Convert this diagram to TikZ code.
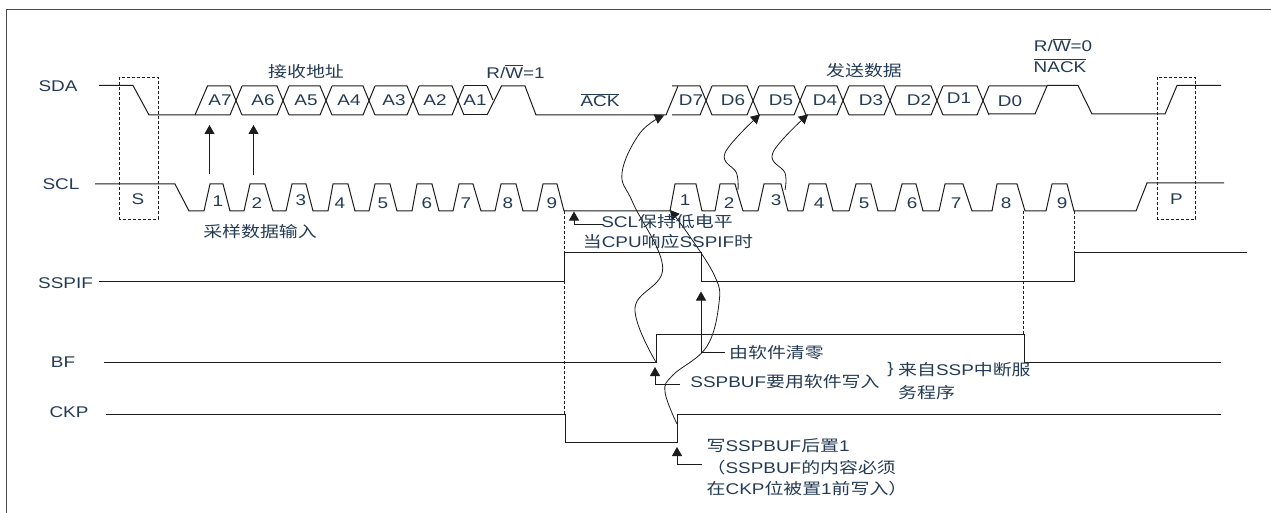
\documentclass[tikz,border=0pt]{standalone}
\usepackage{amsmath}
\usepackage{fontspec}
\usepackage{xcolor}
\usetikzlibrary{arrows.meta,positioning}
\setmainfont[FakeStretch=1.22]{Liberation Sans}
\newfontfamily\cjk[FakeStretch=1.22]{Noto Sans CJK SC}
\newcommand{\zh}[1]{{\cjk #1}}
\definecolor{TMText}{HTML}{243B55}
\definecolor{TMWave}{HTML}{1C1C1C}
\begin{document}
\begin{tikzpicture}[
  x=1pt,y=-1pt,
  sig/.style={text=TMText,font=\fontsize{15.5}{21.5}\selectfont,inner sep=0pt,align=left},
  wave/.style={draw=TMWave,line width=1pt,line join=miter},
  guide/.style={draw=TMWave,line width=0.6pt,densely dashed},
  arr/.style={-{Triangle[length=9pt,width=10pt]},draw=TMWave,line width=0.8pt}
]
\useasboundingbox (0,0) rectangle (1271,513);
\draw[line width=1.1pt,draw=black!70] (6.5,513) -- (6.5,9.5) -- (1271,9.5);

\node[sig] (sda) at (58,86) {SDA};
\node[sig] (scl) at (61,184) {SCL};
\node[sig] (sspif) at (65.5,283) {SSPIF};
\node[sig] (bf) at (63,362) {BF};
\node[sig] (ckp) at (69,412) {CKP};

\draw[wave] (99,85.5) -- (133,85.5) -- (149,115) -- (195,115) -- (207.5,86) -- (230,86) -- (242,115);
\draw[wave] (195,115) -- (230,115) -- (242,86);
\draw[wave] (487,86) -- (493,100);
\draw[wave] (487,115) -- (501.5,86) -- (525,86) -- (536,115) -- (666,115) -- (678,86);
\draw[wave] (1047,85.5) -- (1078,85.5) -- (1092,114) -- (1165,114) -- (1177,85.5) -- (1221,85.5);
\foreach \xa/\xb in {236/283,283/326,326/369,369/413,413/458,666/706,706/753,753/800,800/843,843/890,890/937,937/983}{
  \draw[wave] (\xa+6,86) -- (\xb-6,86) -- (\xb+6,115);
  \draw[wave] (\xa+6,115) -- (\xb-6,115) -- (\xb+6,86);
}
\draw[wave] (464,86) -- (487,86);
\draw[wave] (464,115) -- (487,115);
\draw[wave] (989,86) -- (1047,86) -- (1035,114) -- (989,114);
\foreach \lx/\ly/\txt in {220/100/A7,263/100/A6,306/100/A5,349/100/A4,394/100/A3,435/100/A2,475/100/A1,691/100/D7,733/100/D6,781/100/D5,825/100/D4,871/100/D3,919/100/D2,959/98/D1,1010/101/D0}{
  \node[sig] (bit\txt) at (\lx,\ly) {\txt};
}

\node[sig] (rxaddr) at (306,71.5) {\zh{接收地址}};
\node[sig] (rwone) at (515.5,71.5) {R/\(\overline{\mbox{W}}\)=1};
\node[sig] (ack) at (600,100) {\(\overline{\mbox{ACK}}\)};
\node[sig] (txdata) at (864,71) {\zh{发送数据}};
\node[sig] (rwzero) at (1063,45) {R/\(\overline{\mbox{W}}\)=0};
\node[sig] (nack) at (1060,65.5) {\(\overline{\mbox{NACK}}\)};

\draw[wave] (95,184) -- (175,184) -- (189,211)
  \foreach \a/\b/\c/\d in {204/210/223/230,244/250/265/273,286/292/306/313,328/333/348/355,369/375/390/397,412/417/432/439,453/459/473/481,495/501/516/523,537/543/557/564,670/675/696/702,715/720/735/743,758/764/781/788,803/809/826/833,849/856/871/878,895/902/916/923,939/945/963/972,992/997/1017/1025,1046/1052/1067/1074}{
    -- (\a,211) -- (\b,184) -- (\c,184) -- (\d,211)
  } -- (1136,211) -- (1147,183) -- (1224,183);
\foreach \x/\y/\txt in {218/201/1,257/203/2,301/200/3,340/203/4,383/203/5,427/203/6,466/203/7,508/203/8,552/203/9,685/200/1,729/203/2,776/200/3,819/203/4,864/203/5,912/203/6,956/203/7,1006/203/8,1062/203/9}{
  \node[sig] (pulse\x) at (\x,\y) {\txt};
}
\node[sig] (sample) at (260,231.5) {\zh{采样数据输入}};

\draw[guide] (119.5,77.5) rectangle (158,219);
\draw[guide] (1157,77.5) rectangle (1195.5,219);
\node[sig] (start) at (138,199) {S};
\node[sig] (stop) at (1176.5,199) {P};

\draw[wave] (99,281.5) -- (564,281.5) -- (564,252.7) -- (701,252.7) -- (701,281.5) -- (1074,281.5) -- (1074,252.7) -- (1247,252.7);
\draw[wave] (104,362) -- (656,362) -- (656,334) -- (1024,334) -- (1024,362) -- (1221,362);
\draw[wave] (106,414) -- (565,414) -- (565,442.7) -- (677,442.7) -- (677,414) -- (1221,414);

\draw[guide] (564,211) -- (564,414);
\draw[guide] (1023,211) -- (1023,334);
\draw[guide] (1074,211) -- (1074,253);

\coordinate (clkone) at (209.5,174);
\coordinate (clktwo) at (253.5,175);
\coordinate (sampleA) at (209.5,125);
\coordinate (sampleB) at (253.5,125);
\draw[arr] (clkone) -- (sampleA);
\draw[arr] (clktwo) -- (sampleB);

\coordinate (bfrise) at (655.7,361.7);
\coordinate (ckprise) at (677,424);
\coordinate (clktwoD) at (738,190);
\coordinate (clkthreeD) at (785,190);
\coordinate (dseven) at (664,115.5);
\coordinate (dfive) at (760,114.5);
\coordinate (dfour) at (808,114.5);
\coordinate (sclhold) at (670,210);
\draw[arr] plot[smooth,tension=0.65] coordinates {(bfrise) (635,308) (662.7,268) (633,203) (622,173) (640,133) (dseven)};
\draw[arr] plot[smooth,tension=0.65] coordinates {(clktwoD) (736.5,173) (725,153) (dfive)};
\draw[arr] plot[smooth,tension=0.65] coordinates {(clkthreeD) (785,173) (772.7,153) (dfour)};
\draw[arr] plot[smooth,tension=0.65] coordinates {(ckprise) (665,391.7) (673,375) (706.7,346.7) (719,303) (715,276.7) (690,236.7) (sclhold)};

\node[sig] (hold) at (667,221.5) {SCL\zh{保持低电平}};
\node[sig] (resp) at (668,241.5) {\zh{当}CPU\zh{响应}SSPIF\zh{时}};
\node[sig] (clear) at (776.5,353) {\zh{由软件清零}};
\node[sig] (write) at (785,382) {SSPBUF\zh{要用软件写入}};
\node[sig] (brace) at (890.5,369) {\}};
\node[sig,anchor=west] (isrone) at (898,370) {\zh{来自}SSP\zh{中断服}};
\node[sig,anchor=west] (isrtwo) at (898,392.5) {\zh{务程序}};
\node[sig,anchor=west] (setone) at (706.5,445.5) {\zh{写}SSPBUF\zh{后置}1};
\node[sig,anchor=west] (settwo) at (706.5,467.5) {\zh{（}SSPBUF\zh{的内容必须}};
\node[sig,anchor=west] (setthree) at (706.5,489) {\zh{在}CKP\zh{位被置}1\zh{前写入）}};

\coordinate (holdtip) at (574,211.5);
\coordinate (cleartip) at (701,291.5);
\coordinate (writetip) at (655,367);
\coordinate (settip) at (677,447);
\draw[arr] (602.5,224) -- (574,224) -- (holdtip);
\draw[arr] (725,352) -- (701,352) -- (cleartip);
\draw[arr] (680,384) -- (655,384) -- (writetip);
\draw[arr] (701.5,464) -- (677,464) -- (settip);
\end{tikzpicture}
\end{document}
